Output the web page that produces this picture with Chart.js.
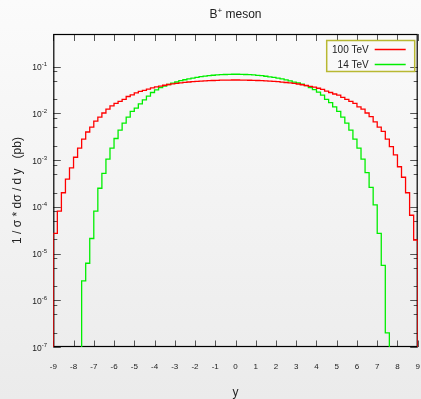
<!DOCTYPE html>
<html>
<head>
<meta charset="utf-8">
<title>B+ meson rapidity</title>
<script src="https://cdn.jsdelivr.net/npm/chart.js@4.4.1/dist/chart.umd.min.js"></script>
<style>
  html, body { margin: 0; padding: 0; }
  body {
    width: 421px;
    height: 399px;
    overflow: hidden;
    background: linear-gradient(to bottom, #fbfbfb 0%, #ebebeb 100%);
  }
  #plot { display: block; }
</style>
</head>
<body>
<canvas id="plot" width="421" height="399"></canvas>
<script>
// Histogram binning: 90 bins of 0.2 between -9 and 9
const X_MIN = -9;
const X_MAX = 9;
const BIN_WIDTH = 0.2;
const Y_MIN = 1e-7;
const Y_MAX = 0.5;

// 1/sigma dsigma/dy per bin, 100 TeV
const red100 = [
  2.7e-5, 8.1e-5, 2.0e-4, 3.9e-4, 6.8e-4, 1.15e-3, 1.8e-3, 2.8e-3, 4.0e-3, 5.1e-3,
  6.8e-3, 8.3e-3, 1.02e-2, 1.23e-2, 1.45e-2, 1.63e-2, 1.8e-2, 2.0e-2, 2.3e-2, 2.5e-2,
  2.75e-2, 2.95e-2, 0.031, 0.033, 0.035, 0.037, 0.0385, 0.040, 0.0415, 0.043,
  0.044, 0.045, 0.046, 0.047, 0.0478, 0.0485, 0.049, 0.0496, 0.050, 0.0505,
  0.051, 0.0513, 0.0515, 0.0517, 0.0518,
  0.0518, 0.0517, 0.0515, 0.0512, 0.051, 0.0505, 0.050, 0.0495, 0.049, 0.0483,
  0.0476, 0.0468, 0.0458, 0.0448, 0.0437, 0.0425, 0.041, 0.0395, 0.038, 0.0365,
  0.0345, 0.0325, 0.030, 0.028, 0.026, 0.0245, 0.022, 0.020, 0.018, 0.0163,
  0.0138, 0.0123, 0.0102, 0.0085, 0.0066, 0.0051, 0.0041, 0.0028, 1.95e-3, 1.3e-3,
  7.2e-4, 4.3e-4, 2.0e-4, 6.6e-5, 1.95e-5
];

// 1/sigma dsigma/dy per bin, 14 TeV (empty bins beyond |y| = 7.6)
const green14 = [
  0, 0, 0, 0, 0, 0, 0, 2.6e-6, 6.2e-6, 2.1e-5,
  8.1e-5, 2.5e-4, 5.2e-4, 1.05e-3, 1.8e-3, 2.9e-3, 4.4e-3, 6.2e-3, 8.3e-3, 0.011,
  0.013, 0.016, 0.0195, 0.0235, 0.028, 0.032, 0.0355, 0.0385, 0.0415, 0.0445,
  0.047, 0.050, 0.0525, 0.055, 0.057, 0.059, 0.061, 0.0625, 0.064, 0.0655,
  0.0665, 0.0675, 0.068, 0.0685, 0.0688,
  0.0688, 0.0685, 0.068, 0.0673, 0.0664, 0.0653, 0.064, 0.0624, 0.0607, 0.0588,
  0.0567, 0.0545, 0.052, 0.0494, 0.0466, 0.0448, 0.042, 0.0392, 0.0358, 0.0322,
  0.0285, 0.0245, 0.020, 0.017, 0.0138, 0.011, 0.0083, 0.0062, 0.0044, 0.0028,
  1.8e-3, 1.05e-3, 5.4e-4, 2.6e-4, 1.1e-4, 2.7e-5, 5.6e-6, 2.0e-7, 0, 0,
  0, 0, 0, 0, 0
];

const seriesLabels = ['100 TeV', '14 TeV'];
const seriesColors = ['#ff0000', '#00ee00'];

const xTickValues = [-9, -8, -7, -6, -5, -4, -3, -2, -1, 0, 1, 2, 3, 4, 5, 6, 7, 8, 9];
const yMajorTicks = [1e-7, 1e-6, 1e-5, 1e-4, 1e-3, 1e-2, 1e-1];
const yMinorTicks = [
  2e-7, 5e-7, 8e-7, 2e-6, 5e-6, 8e-6, 2e-5, 5e-5, 8e-5,
  2e-4, 5e-4, 8e-4, 2e-3, 5e-3, 8e-3, 2e-2, 5e-2, 8e-2
];

const FONT = '"Liberation Sans", Arial, Helvetica, sans-serif';
const TEXT_COLOR = '#222';

// empty bins sit below the axis so their outline is clipped away
const EMPTY_BIN = 1e-9;

// left bin edges with contents, closed down to the axis at both ends
function histPoints(values) {
  const pts = [{ x: X_MIN, y: EMPTY_BIN }];
  values.forEach((v, i) => {
    pts.push({ x: +(X_MIN + i * BIN_WIDTH).toFixed(1), y: v > 0 ? v : EMPTY_BIN });
  });
  const last = values[values.length - 1];
  pts.push({ x: X_MAX, y: last > 0 ? last : EMPTY_BIN });
  pts.push({ x: X_MAX, y: EMPTY_BIN });
  return pts;
}

// frame with inward ticks on all four sides, drawn under the histograms
const frameTicks = {
  id: 'frameTicks',
  beforeDatasetsDraw(chart) {
    const { ctx, chartArea: a, scales: { x, y } } = chart;
    ctx.save();
    ctx.strokeStyle = '#555';
    ctx.lineWidth = 1;
    ctx.beginPath();
    xTickValues.forEach(v => {
      const px = Math.round(x.getPixelForValue(v)) + 0.5;
      ctx.moveTo(px, a.bottom);
      ctx.lineTo(px, a.bottom - 6.5);
      ctx.moveTo(px, a.top);
      ctx.lineTo(px, a.top + 7);
    });
    const yTick = (v, len) => {
      const py = Math.round(y.getPixelForValue(v)) + 0.5;
      ctx.moveTo(a.left, py);
      ctx.lineTo(a.left + len, py);
      ctx.moveTo(a.right, py);
      ctx.lineTo(a.right - len, py);
    };
    yMajorTicks.forEach(v => yTick(v, 7.5));
    yMinorTicks.forEach(v => yTick(v, 4));
    ctx.stroke();

    ctx.strokeStyle = '#000';
    ctx.lineWidth = 1.2;
    ctx.strokeRect(a.left + 0.5, a.top + 0.5, a.right - a.left - 1, a.bottom - a.top - 1);

    // log axis labels as 10 with a raised exponent
    ctx.fillStyle = TEXT_COLOR;
    ctx.textAlign = 'right';
    ctx.textBaseline = 'alphabetic';
    yMajorTicks.forEach(v => {
      const py = y.getPixelForValue(v);
      const exp = String(Math.round(Math.log10(v)));
      ctx.font = '6px ' + FONT;
      const expW = ctx.measureText(exp).width;
      ctx.fillText(exp, 47, py - 0.5);
      ctx.font = '8.5px ' + FONT;
      ctx.fillText('10', 47 - expW, py + 3.5);
    });
    ctx.restore();
  }
};

// title and legend box
const annotations = {
  id: 'annotations',
  afterDatasetsDraw(chart) {
    const { ctx, chartArea: a } = chart;
    ctx.save();

    // title: B+ meson
    const cx = (a.left + a.right) / 2;
    ctx.fillStyle = TEXT_COLOR;
    ctx.textBaseline = 'alphabetic';
    ctx.textAlign = 'left';
    ctx.font = '12px ' + FONT;
    const wB = ctx.measureText('B').width;
    const wRest = ctx.measureText(' meson').width;
    ctx.font = '8px ' + FONT;
    const wPlus = ctx.measureText('+').width;
    let tx = cx - (wB + wPlus + wRest) / 2;
    ctx.font = '12px ' + FONT;
    ctx.fillText('B', tx, 17.5);
    ctx.font = '8px ' + FONT;
    ctx.fillText('+', tx + wB, 12.5);
    ctx.font = '12px ' + FONT;
    ctx.fillText(' meson', tx + wB + wPlus, 17.5);

    // legend
    const boxL = a.right - 91;
    const boxT = a.top + 6.5;
    ctx.strokeStyle = '#b8b832';
    ctx.lineWidth = 1.5;
    ctx.strokeRect(boxL, boxT, 88, 31);
    ctx.font = '10px ' + FONT;
    ctx.textAlign = 'right';
    ctx.textBaseline = 'middle';
    seriesLabels.forEach((label, i) => {
      const rowY = boxT + 9 + i * 15;
      ctx.fillStyle = TEXT_COLOR;
      ctx.fillText(label, boxL + 42, rowY + 1);
      ctx.strokeStyle = seriesColors[i];
      ctx.lineWidth = 1.5;
      ctx.beginPath();
      ctx.moveTo(boxL + 48, rowY);
      ctx.lineTo(boxL + 79, rowY);
      ctx.stroke();
    });
    ctx.restore();
  }
};

const ctx = document.getElementById('plot').getContext('2d');
new Chart(ctx, {
  type: 'line',
  data: {
    datasets: [
      {
        label: seriesLabels[0],
        data: histPoints(red100),
        borderColor: seriesColors[0],
        borderWidth: 1.3,
        stepped: 'before',
        pointRadius: 0,
        fill: false
      },
      {
        label: seriesLabels[1],
        data: histPoints(green14),
        borderColor: seriesColors[1],
        borderWidth: 1.3,
        stepped: 'before',
        pointRadius: 0,
        fill: false
      }
    ]
  },
  options: {
    responsive: false,
    animation: false,
    devicePixelRatio: 1,
    layout: { padding: { top: 34, right: 3.3, left: 0, bottom: 0 } },
    plugins: {
      legend: { display: false },
      title: { display: false },
      tooltip: { enabled: false }
    },
    scales: {
      x: {
        type: 'linear',
        min: X_MIN,
        max: X_MAX,
        grid: { display: false, drawTicks: false },
        border: { display: false },
        afterBuildTicks: s => { s.ticks = xTickValues.map(v => ({ value: v })); },
        afterFit: s => {
          s.height = 52;
          // the end labels may hang over the frame edges
          s.paddingLeft = 0;
          s.paddingRight = 0;
        },
        ticks: {
          autoSkip: false,
          maxRotation: 0,
          padding: 15,
          color: TEXT_COLOR,
          font: { family: FONT, size: 8 }
        },
        title: {
          display: true,
          text: 'y',
          color: TEXT_COLOR,
          padding: { top: 0, bottom: -1 },
          font: { family: FONT, size: 12 }
        }
      },
      y: {
        type: 'logarithmic',
        min: Y_MIN,
        max: Y_MAX,
        grid: { display: false, drawTicks: false },
        border: { display: false },
        ticks: { display: false },
        afterFit: s => { s.width = 53.3; },
        title: {
          display: true,
          text: '1 / σ * dσ / d y   (pb)',
          color: TEXT_COLOR,
          padding: { top: 10, bottom: 0 },
          font: { family: FONT, size: 12 }
        }
      }
    }
  },
  plugins: [frameTicks, annotations]
});
</script>
</body>
</html>
